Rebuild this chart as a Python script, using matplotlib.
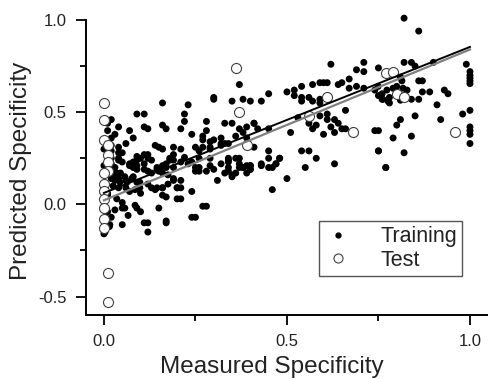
import matplotlib
matplotlib.use("Agg")
import matplotlib.pyplot as plt
from matplotlib.ticker import MultipleLocator, FormatStrFormatter
from matplotlib.lines import Line2D
import numpy as np

plt.rcParams['font.family'] = ['Liberation Sans', 'DejaVu Sans']

# Training set (measured, predicted)
train_x = [
    0.82, 0.86, 0.62, 0.71, 0.71, 0.69, 0.75, 0.82, 0.84, 0.85, 0.90, 0.99,
    1.0, 1.0, 1.0, 1.0, 1.0, 1.0, 1.0, 1.0, 1.0, 1.0,
    0.98, 0.92, 0.91, 0.93, 0.94, 0.89, 0.87, 0.87, 0.86, 0.86, 0.84, 0.85, 0.84, 0.82,
    0.81, 0.80, 0.79, 0.77, 0.75, 0.74, 0.75,
    0.754, 0.762, 0.773, 0.776, 0.78, 0.79, 0.80, 0.814, 0.817, 0.828, 0.749, 0.81,
    0.76, 0.78, 0.80, 0.81,
    0.50, 0.52, 0.52, 0.54, 0.54, 0.54, 0.56, 0.57, 0.57, 0.59, 0.60, 0.61, 0.59, 0.59,
    0.64, 0.65, 0.67, 0.67, 0.69, 0.71, 0.74, 0.75, 0.76,
    0.53, 0.56, 0.58, 0.59, 0.61, 0.61, 0.63, 0.64, 0.66, 0.65, 0.66, 0.63, 0.62, 0.60,
    0.57, 0.51, 0.56, 0.54, 0.58, 0.75,
    0.55, 0.63, 0.50, 0.46, 0.47, 0.48, 0.46, 0.45, 0.45, 0.45, 0.45, 0.77,
    0.43, 0.40, 0.40, 0.38, 0.41, 0.39, 0.41, 0.39, 0.37,
    0.37, 0.35, 0.38, 0.40, 0.43, 0.45, 0.30, 0.30, 0.16, 0.23, 0.09, 0.11, 0.22, 0.22,
    0.33, 0.35, 0.28, 0.41, 0.02, 0.04, 0.07, 0.11, 0.12, 0.16, 0.17, 0.21, 0.24, 0.42,
    0.38, 0.28, 0.03, 0.08, 0.27, 0.30, 0.32, 0.27, 0.29, 0.36, 0.06, 0.04, 0.14, 0.15,
    0.16, 0.19, 0.21, 0.19, 0.27, 0.29, 0.32, 0.34,
    0.32, 0.33, 0.25, 0.26, 0.29, 0.26, 0.29, 0.34, 0.36,
    0.33, 0.34, 0.34, 0.37, 0.37, 0.38, 0.40, 0.40, 0.43, 0.48, 0.47, 0.29, 0.30, 0.32,
    0.25, 0.26, 0.31, 0.35, 0.35, 0.24, 0.27, 0.28, 0.25,
    0.04, 0.04, 0.05, 0.09, 0.10, 0.11, 0.12, 0.07, 0.08, 0.09, 0.03, 0.035, 0.045,
    0.12, 0.13, 0.145, 0.16, 0.17, 0.18, 0.19, 0.16, 0.175, 0.19, 0.20, 0.23, 0.24,
    0.25, 0.26, 0.34, 0.37, 0.39, 0.36, 0.39, 0.34, 0.28,
    0.03, 0.044, 0.057, 0.063, 0.076, 0.098, 0.098, 0.12, 0.145, 0.16, 0.01,
    0.02, 0.04, 0.05, 0.07, 0.08, 0.09, 0.09, 0.11, 0.11, 0.12, 0.13, 0.145, 0.15,
    0.16, 0.17, 0.18, 0.19, 0.21, 0.22,
    0.03, 0.04, 0.06, 0.08, 0.09, 0.025, 0.04, 0.06, 0.07, 0.085, 0.10, 0.13, 0.14,
    0.16, 0.175, 0.19, 0.21, 0.16, 0.17, 0.20, 0.21, 0.20, 0.15, 0.085, 0.057, 0.05,
    0.035, 0.03, 0.05, 0.066, 0.11, 0.12, 0.17, 0.12, 0.05, 0.016, 0.003, 0.24,
    0.17, 0.21, 0.10, 0.09, 0.02, 0.015, 0.0,
    0.01, 0.01, 0.02, 0.0, 0.02, 0.01, 0.0, 0.02, 0.0, 0.01, 0.0, 0.01, 0.0, 0.02,
    0.02, 0.01,
]
train_y = [
    1.01, 0.94, 0.76, 0.77, 0.72, 0.73, 0.74, 0.77, 0.77, 0.75, 0.77, 0.76,
    0.72, 0.70, 0.685, 0.67, 0.655, 0.51, 0.42, 0.40, 0.38, 0.33,
    0.49, 0.46, 0.54, 0.62, 0.60, 0.61, 0.67, 0.61, 0.67, 0.57, 0.57, 0.48, 0.37, 0.28,
    0.46, 0.43, 0.36, 0.20, 0.29, 0.40, 0.40,
    0.59, 0.57, 0.62, 0.56, 0.55, 0.63, 0.64, 0.67, 0.63, 0.62, 0.64, 0.69,
    0.60, 0.58, 0.61, 0.565,
    0.61, 0.62, 0.59, 0.64, 0.58, 0.56, 0.58, 0.56, 0.65, 0.66, 0.66, 0.66, 0.57, 0.55,
    0.65, 0.66, 0.68, 0.63, 0.64, 0.63, 0.62, 0.59, 0.57,
    0.47, 0.44, 0.43, 0.48, 0.49, 0.46, 0.46, 0.44, 0.51, 0.41, 0.41, 0.39, 0.42, 0.38,
    0.41, 0.39, 0.29, 0.29, 0.25, 0.29,
    0.20, 0.22, 0.14, 0.08, 0.22, 0.25, 0.20, 0.41, 0.29, 0.25, 0.20, 0.20,
    0.22, 0.21, 0.19, 0.20, 0.31, 0.36, 0.44, 0.42, 0.41,
    0.65, 0.56, 0.57, 0.56, 0.56, 0.60, 0.58, 0.57, 0.55, 0.54, 0.49, 0.49, 0.49, 0.45,
    0.44, 0.44, 0.45, 0.44, 0.46, 0.42, 0.40, 0.42, 0.41, 0.43, 0.41, 0.41, 0.38, 0.41,
    0.39, 0.40, 0.38, 0.36, 0.37, 0.35, 0.36, 0.35, 0.34, 0.37, 0.33, 0.31, 0.32, 0.31,
    0.30, 0.31, 0.30, 0.27, 0.31, 0.31, 0.33, 0.33,
    0.32, 0.33, 0.31, 0.29, 0.30, 0.25, 0.25, 0.25, 0.25,
    0.17, 0.20, 0.23, 0.25, 0.22, 0.20, 0.21, 0.19, 0.21, 0.25, 0.22, 0.21, 0.19, 0.22,
    0.18, 0.20, 0.13, 0.16, 0.15, 0.07, -0.01, -0.01, -0.07,
    0.28, 0.24, 0.28, 0.26, 0.25, 0.27, 0.27, 0.22, 0.20, 0.21, 0.20, 0.17, 0.17,
    0.18, 0.17, 0.20, 0.20, 0.22, 0.24, 0.20, 0.17, 0.16, 0.13, 0.09, 0.22, 0.23,
    0.20, 0.18, 0.24, 0.20, 0.21, 0.17, 0.17, 0.18, 0.18,
    0.13, 0.12, 0.15, 0.12, 0.14, 0.12, 0.09, 0.11, 0.09, 0.09, 0.06,
    0.25, 0.25, 0.23, 0.21, 0.23, 0.24, 0.19, 0.19, 0.22, 0.25, 0.24, 0.19, 0.18,
    0.21, 0.20, 0.25, 0.24, 0.23, 0.255,
    0.16, 0.14, 0.13, 0.15, 0.12, 0.10, 0.09, 0.09, 0.07, 0.08, 0.06, 0.09, 0.08,
    0.09, 0.11, 0.14, 0.13, 0.05, 0.04, 0.09, 0.09, 0.03, -0.02, -0.005, -0.02, 0.01,
    0.03, -0.03, -0.02, -0.06, -0.10, -0.10, -0.09, -0.15, -0.11, -0.11, -0.15, -0.07,
    -0.10, 0.03, -0.04, -0.02, -0.07, -0.12, -0.16,
    0.44, 0.40, 0.36, 0.30, 0.29, 0.26, 0.21, 0.14, 0.10, 0.05, 0.02, -0.04, -0.09, 0.32,
    0.22, 0.19,
]

# Test set (measured, predicted)
test_x = [0.0, 0.0, 0.0, 0.01, 0.01, 0.01, 0.01, 0.0, 0.0, 0.0, 0.0, 0.0, 0.0, 0.0,
          0.01, 0.01, 0.36, 0.37, 0.39, 0.77, 0.79, 0.80, 0.82, 0.61, 0.56, 0.68, 0.96]
test_y = [0.55, 0.46, 0.35, 0.32, 0.27, 0.23, 0.18, 0.17, 0.11, 0.07, 0.03, -0.02,
          -0.08, -0.13, -0.37, -0.53, 0.74, 0.50, 0.32, 0.71, 0.72, 0.60, 0.58, 0.58,
          0.48, 0.39, 0.39]

# Regression lines (intercept, slope) over measured range
fit_range = [0.0, 1.0]
fit_black = [0.062, 0.792]
fit_gray = [0.022, 0.818]

fig = plt.figure(figsize=(4.89, 3.79), dpi=100)
ax = fig.add_axes([86/489, 64/379, 1 - 86/489, (315-20)/379])

ax.scatter(train_x, train_y, s=25, c='black', edgecolors='none', zorder=3, clip_on=False)
ax.scatter(test_x, test_y, s=52, facecolors='white', edgecolors='#404040', linewidths=0.8,
           zorder=4, clip_on=False)

xr = np.array(fit_range)
ax.plot(xr, fit_gray[0] + fit_gray[1]*xr, color='#808080', lw=1.6, zorder=5)
ax.plot(xr, fit_black[0] + fit_black[1]*xr, color='black', lw=1.4, zorder=5)

ax.set_xlim(-0.049, 1.052)
ax.set_ylim(-0.6, 1.0)
ax.xaxis.set_major_locator(MultipleLocator(0.5))
ax.xaxis.set_minor_locator(MultipleLocator(0.25))
ax.yaxis.set_major_locator(MultipleLocator(0.5))
ax.yaxis.set_minor_locator(MultipleLocator(0.25))
ax.xaxis.set_major_formatter(FormatStrFormatter('%.1f'))
ax.yaxis.set_major_formatter(FormatStrFormatter('%.1f'))
ax.tick_params(which='major', direction='out', length=7, width=1.3, labelsize=12,
               labelcolor='#222222', pad=7)
ax.tick_params(which='minor', direction='out', length=4.5, width=1.3)

for s in ['top', 'right']:
    ax.spines[s].set_visible(False)
for s in ['left', 'bottom']:
    ax.spines[s].set_linewidth(1.4)

ax.set_xlabel('Measured Specificity', fontsize=17.5, color='#222222')
ax.set_ylabel('Predicted Specificity', fontsize=17.5, color='#222222')
ax.xaxis.set_label_coords((272-86)/(489-86), -(356-315)/295)
ax.yaxis.set_label_coords(-(86-32)/(489-86), 0.49)

handles = [Line2D([], [], ls='none', marker='o', ms=3.5, color='black'),
           Line2D([], [], ls='none', marker='o', ms=6.5, mfc='white', mec='#404040', mew=0.8)]
leg = fig.legend(handles, ['Training', 'Test'], loc='upper left',
                 bbox_to_anchor=(319/489, 1 - 221/379), borderaxespad=0, fontsize=15.5,
                 frameon=True, fancybox=False, edgecolor='#555555', framealpha=1,
                 labelspacing=0.12, handletextpad=1.3, borderpad=0.25, handlelength=1.3)
leg.get_frame().set_linewidth(1.0)
for t in leg.get_texts():
    t.set_color('#222222')

fig.savefig('out.png', dpi=100)
